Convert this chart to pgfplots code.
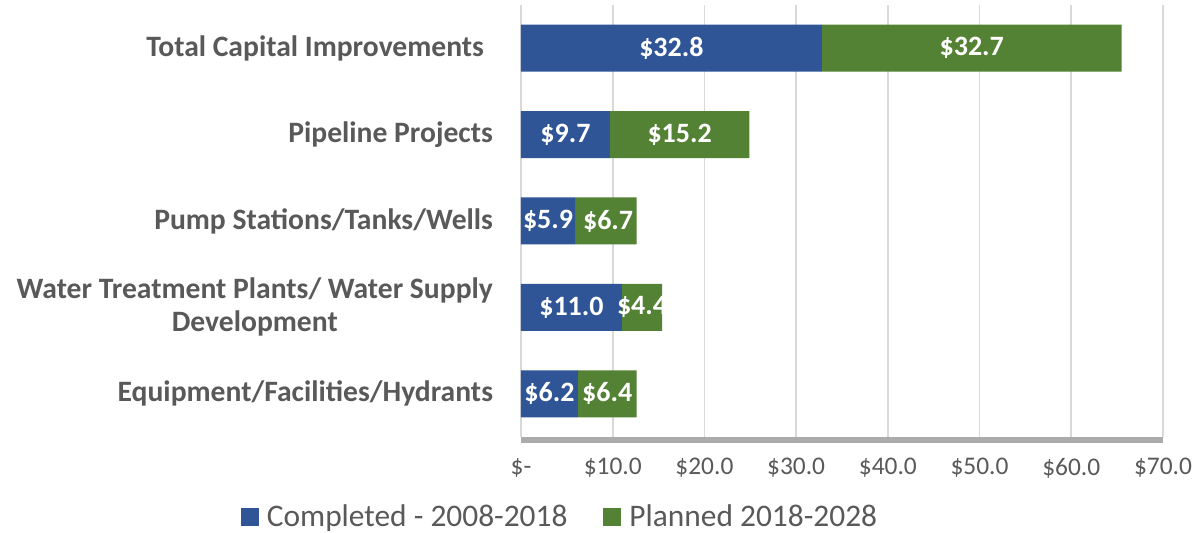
\documentclass[border=0pt]{standalone}
\usepackage{pgfplots}
\pgfplotsset{compat=1.18}
\usepackage{fontspec}
\setmainfont{Carlito}
\usetikzlibrary{shadows}
\definecolor{cblue}{HTML}{2F5597}
\definecolor{cgreen}{HTML}{548235}
\definecolor{ctext}{HTML}{595959}
\definecolor{cgrid}{HTML}{D9D9D9}
\begin{document}
\begin{tikzpicture}
\useasboundingbox (-260.5pt,-48pt) rectangle (338.5pt,218.5pt);
\pgfplotsset{
  common/.style={scale only axis, width=321pt, height=216pt,
    xmin=0, xmax=70, ymin=-0.5, ymax=4.5, at={(0,0)}, anchor=south west}
}
\begin{axis}[common, xbar stacked, bar width=23.5pt,
  axis background/.style={fill=white, drop shadow={shadow xshift=0pt, shadow yshift=-3pt, fill=black!60, opacity=0.55}},
  axis line style={draw=none},
  xtick={0,10,20,30,40,50,60,70},
  xticklabels={\$-, \$10.0, \$20.0, \$30.0, \$40.0, \$50.0, \$60.0, \$70.0},
  xmajorgrids, grid style={cgrid, line width=0.8pt},
  major tick length=0pt,
  ytick={0,1,2,3,4},
  yticklabels={{Equipment/Facilities/Hydrants},
    {Water Treatment Plants/ Water Supply\\Development},
    {Pump Stations/Tanks/Wells},
    {Pipeline Projects},
    {Total Capital Improvements\hspace{4.5pt}}},
  yticklabel style={align=center, font=\fontsize{14.8}{16.5}\selectfont\bfseries, text=ctext, xshift=-10.5pt},
  xticklabel style={font=\fontsize{12.7}{14}\selectfont, text=ctext, yshift=-7pt},
  legend style={draw=none, at={(0.0623,-0.185)}, anchor=center,
    font=\fontsize{15.7}{18}\selectfont, text=ctext,
    /tikz/every odd column/.append style={column sep=2pt},
    /tikz/every even column/.append style={column sep=16pt}},
  legend columns=2,
]
\addplot[fill=cblue, draw=none, legend image code/.code={\fill[cblue] (0pt,-4.5pt) rectangle (9pt,4.5pt);}]
  coordinates {(6.2,0) (11.0,1) (5.9,2) (9.7,3) (32.8,4)};
\addlegendentry{Completed - 2008-2018}
\addplot[fill=cgreen, draw=none, legend image code/.code={\fill[cgreen] (0pt,-4.5pt) rectangle (9pt,4.5pt);}]
  coordinates {(6.4,0) (4.4,1) (6.7,2) (15.2,3) (32.7,4)};
\addlegendentry{Planned 2018-2028}
\end{axis}
\begin{axis}[common, hide axis, nodes near coords, point meta=explicit symbolic,
  every node near coord/.append style={anchor=center, inner sep=0pt, font=\fontsize{14}{16}\selectfont\bfseries, text=white}]
\addplot[draw=none] coordinates {(3.1,0) [\$6.2] (5.5,1) [\$11.0] (2.95,2) [\$5.9] (4.85,3) [\$9.7] (16.4,4) [\$32.8]};
\addplot[draw=none] coordinates {(9.4,0) [\$6.4] (13.2,1) [\$4.4] (9.5,2) [\$6.7] (17.3,3) [\$15.2] (49.15,4) [\$32.7]};
\end{axis}
\end{tikzpicture}
\end{document}
